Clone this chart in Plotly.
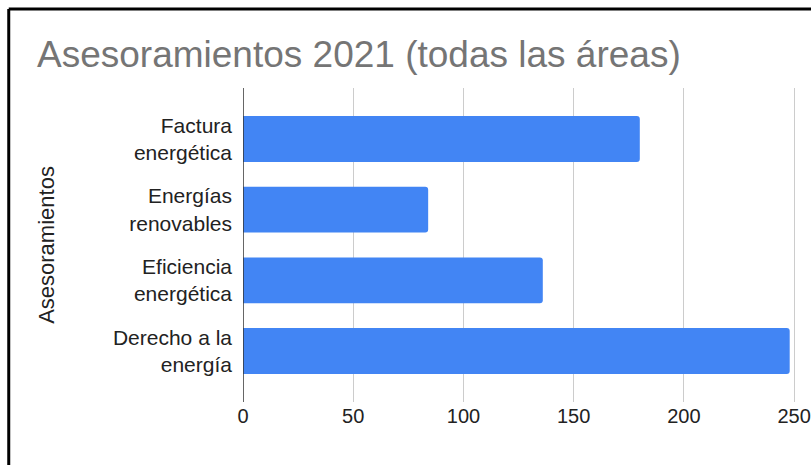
import plotly.graph_objects as go

# datos
categorias = ["Derecho a la<br>energía", "Eficiencia<br>energética",
              "Energías<br>renovables", "Factura<br>energética"]
valores = [248, 136, 84, 180]
ticks_x = [0, 50, 100, 150, 200, 250]

W, H = 811, 465
M_L, M_R, M_T, M_B = 243, 0, 88, 63
plot_w = W - M_L - M_R
plot_h = H - M_T - M_B


def px_x(p):
    return (p - M_L) / plot_w


def px_y(p):
    return (H - M_B - p) / plot_h


fig = go.Figure()
fig.add_trace(go.Bar(
    x=valores,
    y=categorias,
    orientation="h",
    marker=dict(color="#4285F4", line=dict(width=0)),
    hoverinfo="x+y",
))

fig.update_layout(
    width=W, height=H,
    margin=dict(l=M_L, r=M_R, t=M_T, b=M_B),
    paper_bgcolor="white",
    plot_bgcolor="white",
    font=dict(family="Arial, Liberation Sans", color="#222222", size=21),
    bargap=0.35,
    barcornerradius=3,
    showlegend=False,
    title=dict(
        text="Asesoramientos 2021 (todas las áreas)",
        font=dict(size=37, color="#757575", family="Arial, Liberation Sans"),
        x=37 / W, xref="container", xanchor="left",
        y=1 - 54 / H, yref="container", yanchor="middle",
    ),
    xaxis=dict(
        range=[0, 256.3],
        tickvals=ticks_x,
        showgrid=True, gridcolor="#cccccc", gridwidth=1.3,
        zeroline=False,
        showline=False,
        ticks="",
        ticklabeloverflow="allow",
        tickfont=dict(size=20, color="#222222"),
    ),
    yaxis=dict(
        range=[-0.72, 3.72],
        showgrid=False,
        ticks="",
        ticklabelstandoff=10,
        tickfont=dict(size=21, color="#222222"),
        title=dict(text="Asesoramientos", font=dict(size=22, color="#222222"), standoff=52),
    ),
    shapes=[
        # eje cero
        dict(type="line", xref="x", yref="paper", x0=0, x1=0, y0=0, y1=1,
             line=dict(color="#333333", width=1.5)),
        # marco negro del recorte
        dict(type="line", xref="paper", yref="paper",
             x0=px_x(7.5), x1=px_x(W + 5), y0=px_y(9), y1=px_y(9),
             line=dict(color="black", width=3)),
        dict(type="line", xref="paper", yref="paper",
             x0=px_x(7.5), x1=px_x(7.5), y0=px_y(9), y1=px_y(H + 5),
             line=dict(color="black", width=3)),
    ],
)

fig.write_html("out.html", config={"displayModeBar": False},
               post_script="document.body.style.margin='0';")
